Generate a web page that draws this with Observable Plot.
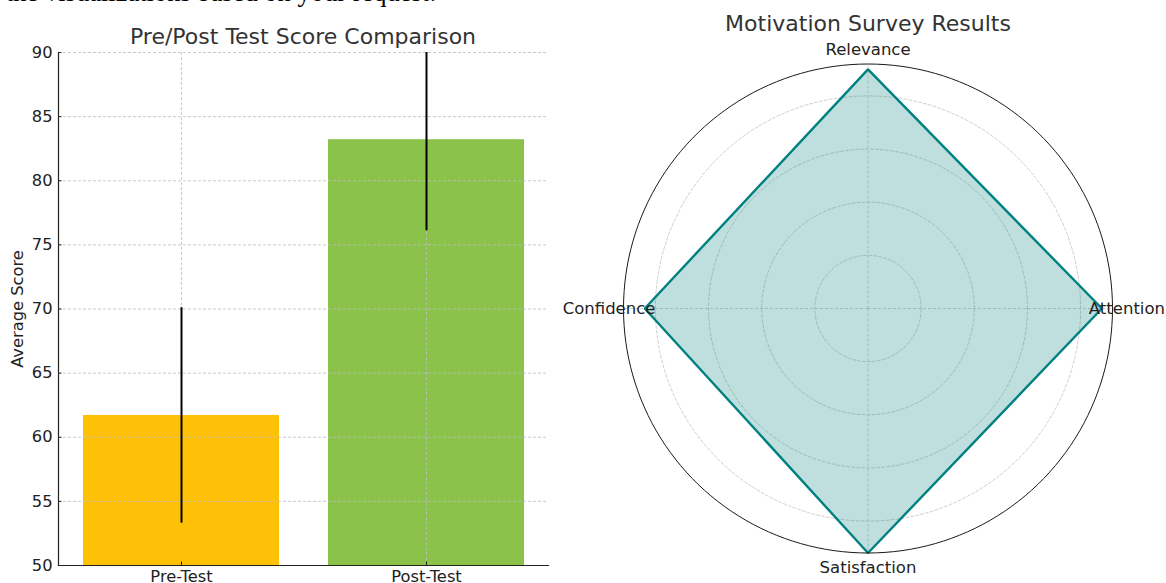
<!DOCTYPE html>
<html>
<head>
<meta charset="utf-8">
<script src="https://cdn.jsdelivr.net/npm/d3@7"></script>
<script src="https://cdn.jsdelivr.net/npm/@observablehq/plot@0.6"></script>
<style>
  html, body { margin: 0; padding: 0; background: white; }
  #wrap { position: relative; width: 1166px; height: 583px; overflow: hidden; background: white; }
  .abs { position: absolute; }
  .title { font-family: "DejaVu Sans", sans-serif; color: #333; white-space: nowrap; transform: translateX(-50%); line-height: 1; }
  #intro { font-family: "Liberation Serif", serif; font-size: 26.5px; line-height: 1; color: #000; left: 6px; top: -21px; white-space: nowrap; }
</style>
</head>
<body>
<div id="wrap">
  <div id="intro" class="abs">the visualizations based on your request:</div>
  <div id="t1" class="abs title" style="left:303px; top:26px; font-size:22px;">Pre/Post Test Score Comparison</div>
  <div id="t2" class="abs title" style="left:868px; top:13px; font-size:22px;">Motivation Survey Results</div>
  <div id="left" class="abs" style="left:0; top:0;"></div>
  <div id="right" class="abs" style="left:550px; top:0;"></div>
</div>
<script>
// ---- Bar chart data ----
const categories = ["Pre-Test", "Post-Test"];
const means = [61.7, 83.2];
const sds = [8.4, 7.1];
const barColors = ["#FFC107", "#8BC34A"];
const yTicks = [50, 55, 60, 65, 70, 75, 80, 85, 90];
const yDomain = [50, 90];

// ---- Radar data ----
const radarCategories = ["Attention", "Relevance", "Confidence", "Satisfaction"];
const radarValues = [4.4, 4.5, 4.2, 4.6];
const radarRings = [1, 2, 3, 4];
const radarMax = 4.6;

// ---------- Left: bar chart ----------
const bars = categories.map((c, i) => ({cat: c, mean: means[i], lo: means[i] - sds[i], hi: means[i] + sds[i]}));

const left = Plot.plot({
  width: 550, height: 583,
  marginTop: 52, marginBottom: 18, marginLeft: 58, marginRight: 2,
  x: {type: "band", domain: categories, paddingInner: 0.2, paddingOuter: 0.1, label: null},
  y: {domain: yDomain, label: null},
  color: {domain: categories, range: barColors},
  style: {fontFamily: "DejaVu Sans, sans-serif", fontSize: "16.3px", color: "#222", background: "transparent", overflow: "visible"},
  marks: [
    Plot.barY(bars, {x: "cat", y1: yDomain[0], y2: "mean", fill: "cat"}),
    Plot.gridY(yTicks, {stroke: "#bdbdbd", strokeOpacity: 1, strokeWidth: 0.8, strokeDasharray: "3,2"}),
    Plot.gridX(categories, {stroke: "#bdbdbd", strokeOpacity: 1, strokeWidth: 0.8, strokeDasharray: "3,2"}),
    Plot.ruleX(bars, {x: "cat", y1: "lo", y2: "hi", stroke: "#000", strokeWidth: 2, clip: true}),
    Plot.axisY(yTicks, {tickSize: -3.5, tickPadding: 9.5, label: null, stroke: "#222"}),
    Plot.axisX({tickSize: -3.5, tickPadding: 8, label: null, stroke: "#222"}),
    Plot.frame({anchor: "left", stroke: "#222", strokeWidth: 1.2}),
    Plot.frame({anchor: "bottom", stroke: "#222", strokeWidth: 1.2})
  ]
});
document.getElementById("left").appendChild(left);

// y-axis title
const yl = document.createElement("div");
yl.textContent = "Average Score";
Object.assign(yl.style, {position: "absolute", left: "18px", top: "309px", transform: "translate(-50%,-50%) rotate(-90deg)",
  fontFamily: "DejaVu Sans, sans-serif", fontSize: "16.3px", color: "#222", whiteSpace: "nowrap", lineHeight: "1"});
document.getElementById("wrap").appendChild(yl);

// ---------- Right: radar chart ----------
const n = radarCategories.length;
const angle = i => (2 * Math.PI * i) / n;
const pts = radarCategories.map((c, i) => ({cat: c, v: radarValues[i], a: angle(i)}));
const poly = pts.concat([pts[0]]);

const circleOf = (r) => d3.range(0, 361, 2).map(deg => ({r, a: deg * Math.PI / 180}));
const rings = radarRings.flatMap(circleOf);
const outer = circleOf(radarMax);
const labelR = radarMax * 1.059;

const right = Plot.plot({
  width: 616, height: 583,
  marginLeft: 73, marginRight: 54, marginTop: 63.5, marginBottom: 30.5,
  x: {domain: [-radarMax, radarMax], axis: null},
  y: {domain: [-radarMax, radarMax], axis: null},
  style: {fontFamily: "DejaVu Sans, sans-serif", fontSize: "16.5px", color: "#222", background: "transparent", overflow: "visible"},
  marks: [
    Plot.line(rings, {x: d => d.r * Math.cos(d.a), y: d => d.r * Math.sin(d.a), z: "r", stroke: "#c4c4c4", strokeWidth: 0.8, strokeDasharray: "3,2"}),
    Plot.link(pts, {x1: 0, y1: 0, x2: d => radarMax * Math.cos(d.a), y2: d => radarMax * Math.sin(d.a), stroke: "#c4c4c4", strokeWidth: 0.8, strokeDasharray: "3,2"}),
    Plot.line(poly, {x: d => d.v * Math.cos(d.a), y: d => d.v * Math.sin(d.a), fill: "#008080", fillOpacity: 0.25, stroke: "#008080", strokeWidth: 2.4, strokeLinejoin: "miter"}),
    Plot.line(outer, {x: d => d.r * Math.cos(d.a), y: d => d.r * Math.sin(d.a), stroke: "#1a1a1a", strokeWidth: 1}),
    Plot.text(pts, {x: d => labelR * Math.cos(d.a), y: d => labelR * Math.sin(d.a), text: "cat", textAnchor: "middle", lineAnchor: "middle", fill: "#222", fontSize: 16.5})
  ]
});
document.getElementById("right").appendChild(right);
</script>
</body>
</html>
